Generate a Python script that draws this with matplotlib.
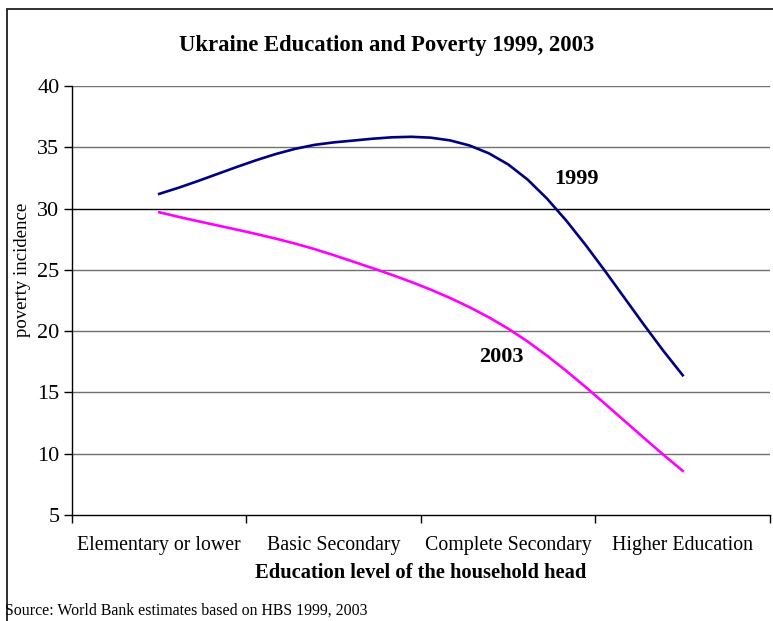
import numpy as np
import matplotlib
matplotlib.use("Agg")
import matplotlib.pyplot as plt
from matplotlib.patches import Rectangle

plt.rcParams['font.family'] = ['Liberation Serif', 'DejaVu Serif']

categories = ["Elementary or lower", "Basic Secondary", "Complete Secondary", "Higher Education"]
poverty_1999 = [31.2, 35.4, 33.6, 16.4]
poverty_2003 = [29.7, 26.2, 20.2, 8.6]
yticks = [5, 10, 15, 20, 25, 30, 35, 40]


def smooth(y, n=10):
    # cubic bezier through the points, catmull-rom style tangents,
    # ends extrapolated linearly
    y = np.asarray(y, dtype=float)
    x = np.arange(len(y), dtype=float)
    xs, ys = [], []
    for i in range(len(y) - 1):
        y0 = y[i - 1] if i > 0 else 2 * y[i] - y[i + 1]
        y3 = y[i + 2] if i + 2 < len(y) else 2 * y[i + 1] - y[i]
        c1 = y[i] + (y[i + 1] - y0) / 6
        c2 = y[i + 1] - (y3 - y[i]) / 6
        t = np.linspace(0, 1, n)
        b = ((1 - t) ** 3 * y[i] + 3 * (1 - t) ** 2 * t * c1
             + 3 * (1 - t) * t ** 2 * c2 + t ** 3 * y[i + 1])
        xs.append(x[i] + t)
        ys.append(b)
    return np.concatenate(xs), np.concatenate(ys)


fig = plt.figure(figsize=(7.73, 6.21), dpi=100)
ax = fig.add_axes([0.0931, 0.1707, 0.9030, 0.6908])

for yv in yticks[1:]:
    ax.axhline(yv, color='black' if yv == 30 else '#707070', lw=1.0, zorder=1)

x99, y99 = smooth(poverty_1999)
x03, y03 = smooth(poverty_2003)
ax.plot(x99, y99, color='#000080', lw=1.9, zorder=3)
ax.plot(x03, y03, color='#FF00FF', lw=1.9, zorder=3)

ax.text(2.39, 32.4, "1999", fontsize=16, fontweight='bold', ha='center', va='center')
ax.text(1.96, 17.9, "2003", fontsize=16, fontweight='bold', ha='center', va='center')

ax.set_xlim(-0.5, len(categories) - 0.5)
ax.set_ylim(5, 40)
ax.set_yticks(yticks)
ax.set_xticks(np.arange(len(categories)))
ax.set_xticklabels(categories, fontsize=14.3)
ax.set_xticks(np.arange(len(categories) + 1) - 0.5, minor=True)
ax.tick_params(axis='x', which='major', length=0, pad=15)
ax.tick_params(axis='x', which='minor', length=6, width=1, direction='out')
ax.tick_params(axis='y', length=6, width=1, labelsize=16, pad=3)

for s in ['top', 'right']:
    ax.spines[s].set_visible(False)
for s in ['left', 'bottom']:
    ax.spines[s].set_linewidth(1.0)

ax.set_ylabel("poverty incidence", fontsize=13.5)
ax.yaxis.set_label_coords(-0.059, 0.571)
ax.set_xlabel("Education level of the household head", fontsize=14.8, fontweight='bold', labelpad=6)

fig.text(0.5, 0.926, "Ukraine Education and Poverty 1999, 2003", fontsize=16.3,
         fontweight='bold', ha='center', va='center')
fig.text(0.007, 0.016, "Source: World Bank estimates based on HBS 1999, 2003", fontsize=11.4,
         ha='left', va='center')

# outer chart frame
fig.patches.append(Rectangle((7 / 773, -0.05), 1.05, 1 - 9 / 621 + 0.05, transform=fig.transFigure,
                             fill=False, edgecolor='#202020', lw=1.3))

fig.savefig("out.png", dpi=100)
